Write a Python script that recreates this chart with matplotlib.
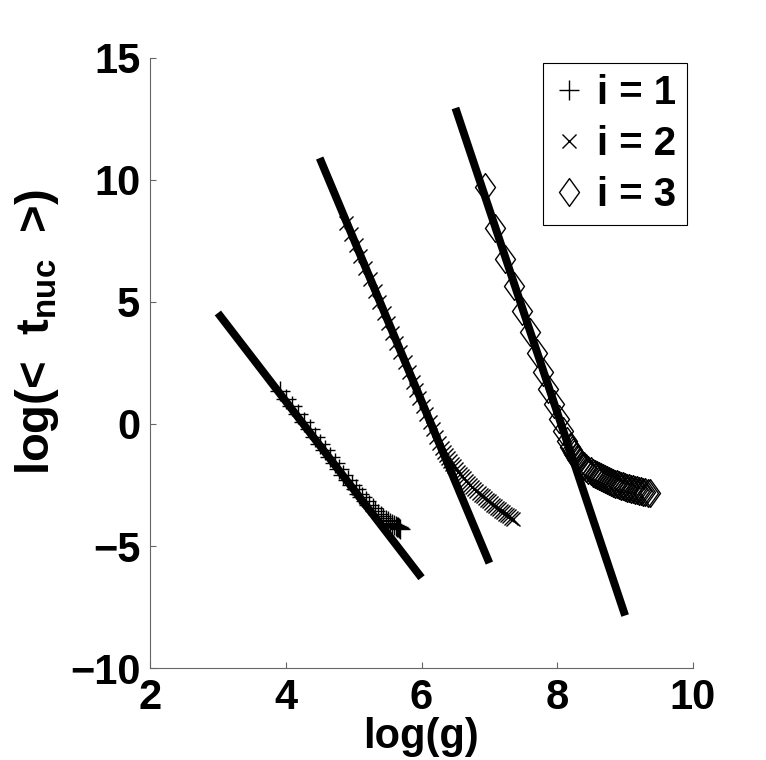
import matplotlib
matplotlib.use("Agg")
import matplotlib.pyplot as plt
from matplotlib.path import Path

plt.rcParams['font.family'] = ['Liberation Sans', 'DejaVu Sans']
plt.rcParams['font.weight'] = 'bold'
plt.rcParams['mathtext.fontset'] = 'custom'
plt.rcParams['mathtext.rm'] = 'Liberation Sans:bold'
plt.rcParams['mathtext.bf'] = 'Liberation Sans:bold'
plt.rcParams['axes.unicode_minus'] = True

# ---- data ----
x1 = [3.91, 4.00, 4.09, 4.18, 4.27, 4.35, 4.43, 4.51, 4.58, 4.65, 4.72, 4.79, 4.85,
      4.91, 4.97, 5.03, 5.08, 5.13, 5.18, 5.23, 5.28, 5.32, 5.36, 5.40, 5.44, 5.48,
      5.51, 5.54, 5.57, 5.60, 5.62, 5.64, 5.66, 5.67, 5.68]
y1 = [1.35, 1.03, 0.72, 0.40, 0.08, -0.22, -0.52, -0.82, -1.08, -1.34, -1.60, -1.85,
      -2.07, -2.28, -2.48, -2.68, -2.85, -3.01, -3.17, -3.32, -3.46, -3.57, -3.67,
      -3.76, -3.85, -3.93, -3.99, -4.05, -4.10, -4.15, -4.18, -4.21, -4.24, -4.27, -4.30]

x2 = [4.89, 4.96, 5.03, 5.10, 5.17, 5.24, 5.31, 5.38, 5.45, 5.51, 5.57, 5.63, 5.69,
      5.75, 5.81, 5.87, 5.92, 5.97, 6.02, 6.07, 6.12, 6.17, 6.22, 6.26, 6.30, 6.33,
      6.36, 6.39, 6.42, 6.45, 6.48, 6.51, 6.54, 6.57, 6.60, 6.63, 6.66, 6.69, 6.72,
      6.75, 6.78, 6.81, 6.84, 6.87, 6.90, 6.93, 6.96, 6.99, 7.02, 7.05, 7.08, 7.11,
      7.14, 7.17, 7.20, 7.23, 7.26, 7.29, 7.32, 7.35]
y2 = [8.25, 7.80, 7.33, 6.87, 6.40, 5.94, 5.47, 5.01, 4.54, 4.14, 3.74, 3.34, 2.94,
      2.54, 2.14, 1.74, 1.41, 1.08, 0.75, 0.42, 0.09, -0.22, -0.52, -0.76, -0.98,
      -1.13, -1.26, -1.39, -1.52, -1.63, -1.74, -1.85, -1.95, -2.05, -2.14, -2.23,
      -2.32, -2.41, -2.50, -2.58, -2.66, -2.74, -2.82, -2.89, -2.96, -3.03, -3.10,
      -3.17, -3.24, -3.30, -3.37, -3.43, -3.49, -3.55, -3.61, -3.67, -3.73, -3.79,
      -3.85, -3.91]

x3 = [6.93, 7.08, 7.23, 7.36, 7.48, 7.60, 7.70, 7.79, 7.87, 7.95, 8.02, 8.08, 8.14,
      8.19, 8.21, 8.23, 8.25, 8.27, 8.29, 8.31, 8.34, 8.37, 8.40, 8.43, 8.46, 8.49,
      8.52, 8.55, 8.58, 8.61, 8.64, 8.67, 8.70, 8.73, 8.76, 8.79, 8.82, 8.85, 8.88,
      8.91, 8.94, 8.97, 9.00, 9.03, 9.06, 9.09, 9.12, 9.15, 9.18, 9.21, 9.24, 9.27,
      9.30, 9.33, 9.36]
y3 = [9.71, 8.05, 6.75, 5.65, 4.65, 3.75, 2.92, 2.15, 1.45, 0.80, 0.22, -0.27, -0.68,
      -0.95, -1.06, -1.16, -1.25, -1.34, -1.42, -1.49, -1.58, -1.66, -1.74, -1.81,
      -1.88, -1.94, -2.00, -2.05, -2.10, -2.15, -2.19, -2.23, -2.27, -2.31, -2.35,
      -2.38, -2.41, -2.44, -2.47, -2.50, -2.53, -2.56, -2.58, -2.61, -2.63, -2.65,
      -2.67, -2.69, -2.71, -2.73, -2.75, -2.77, -2.79, -2.81, -2.83]

fit1_x = [3.0, 6.0]
fit1_y = [4.55, -6.3]
fit2_x = [4.5, 7.0]
fit2_y = [10.9, -5.7]
fit3_x = [6.5, 9.0]
fit3_y = [12.95, -7.85]

labels = ['i = 1', 'i = 2', 'i = 3']
xticks = [2, 4, 6, 8, 10]
yticks = [-10, -5, 0, 5, 10, 15]

# ---- figure ----
fig = plt.figure(figsize=(7.66, 7.60), dpi=100)
ax = fig.add_axes([150/766, 92/760, 543/766, 610/760])

diamond = Path([(0, 1), (0.72, 0), (0, -1), (-0.72, 0), (0, 1)],
               [Path.MOVETO, Path.LINETO, Path.LINETO, Path.LINETO, Path.CLOSEPOLY])

ax.plot(x1, y1, linestyle='none', marker='+', ms=14, mew=1.0, color='black', label=labels[0])
ax.plot(x2, y2, linestyle='none', marker='x', ms=10, mew=1.0, color='black', label=labels[1])
ax.plot(x3, y3, linestyle='none', marker=diamond, ms=20, mew=1.0, color='black',
        mfc='none', label=labels[2])

for fx, fy in [(fit1_x, fit1_y), (fit2_x, fit2_y), (fit3_x, fit3_y)]:
    ax.plot(fx, fy, color='black', lw=5.7, solid_capstyle='butt', zorder=3)

ax.set_xlim(2, 10)
ax.set_ylim(-10, 15)
ax.set_xticks(xticks)
ax.set_yticks(yticks)

for s in ['top', 'right']:
    ax.spines[s].set_visible(False)
for s in ['left', 'bottom']:
    ax.spines[s].set_color('#666666')
    ax.spines[s].set_linewidth(0.8)
ax.tick_params(direction='in', length=4, width=0.8, color='#666666',
               labelsize=30, pad=7)
for t in ax.get_xticklabels() + ax.get_yticklabels():
    t.set_fontweight('bold')

ax.set_xlabel('log(g)', fontsize=30, fontweight='bold')
ax.xaxis.set_label_coords(0.5, -0.08)
ax.set_ylabel(r'log(<  t$_{\mathrm{nuc}}$  >)', fontsize=34, fontweight='bold')
ax.yaxis.set_label_coords(-0.163, 0.55)

leg = ax.legend(loc='upper right', bbox_to_anchor=(0.989, 0.992), fontsize=29,
                frameon=True, fancybox=False, framealpha=1, edgecolor='black',
                handlelength=0.75, handletextpad=0.3, borderpad=0.28, labelspacing=0.32,
                borderaxespad=0)
leg.get_frame().set_linewidth(0.8)
for t in leg.get_texts():
    t.set_fontweight('bold')

fig.savefig('out.png', dpi=100)
